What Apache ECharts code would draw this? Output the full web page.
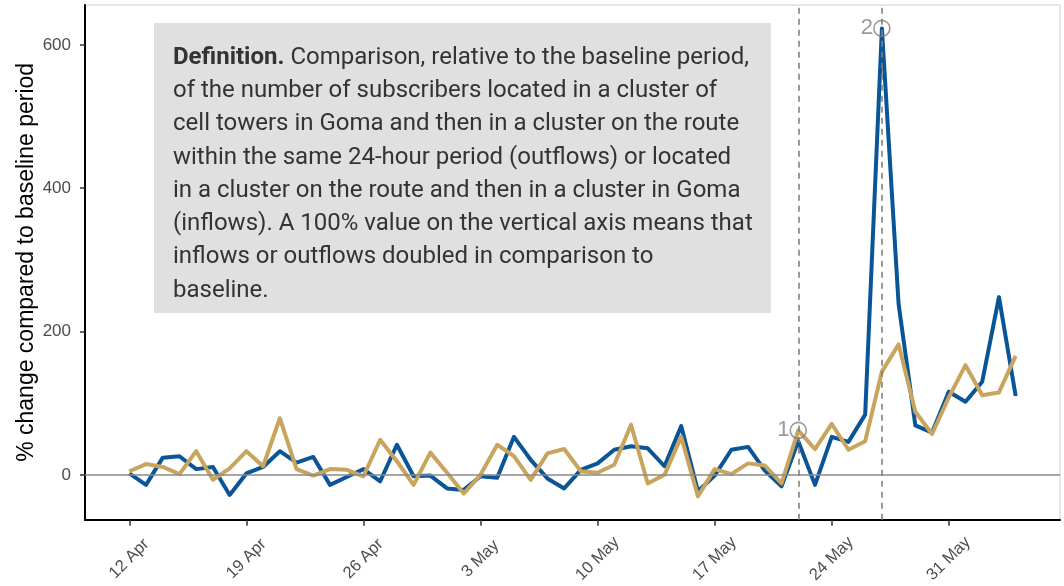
<!DOCTYPE html>
<html>
<head>
<meta charset="utf-8">
<script src="https://cdn.jsdelivr.net/npm/echarts@6/dist/echarts.min.js"></script>
<style>
html,body{margin:0;padding:0;background:#fff;}
#chart{width:1064px;height:586px;}
</style>
</head>
<body>
<div id="chart"></div>
<script>
// Daily dates from 12 Apr to 4 Jun (2021)
const dates = ['12 Apr','13 Apr','14 Apr','15 Apr','16 Apr','17 Apr','18 Apr','19 Apr','20 Apr','21 Apr',
  '22 Apr','23 Apr','24 Apr','25 Apr','26 Apr','27 Apr','28 Apr','29 Apr','30 Apr','1 May',
  '2 May','3 May','4 May','5 May','6 May','7 May','8 May','9 May','10 May','11 May',
  '12 May','13 May','14 May','15 May','16 May','17 May','18 May','19 May','20 May','21 May',
  '22 May','23 May','24 May','25 May','26 May','27 May','28 May','29 May','30 May','31 May',
  '1 Jun','2 Jun','3 Jun','4 Jun'];
const outflows = [2,-14,24,26,8,11,-28,2,11,33,
  17,25,-14,-3,8,-9,42,-2,-1,-19,
  -21,-2,-4,53,21,-5,-19,7,16,35,
  40,37,12,68,-23,-1,35,39,6,-16,
  47,-14,53,46,84,623,238,69,59,116,
  102,130,248,110];
const inflows = [5,15,11,1,33,-7,9,33,12,79,
  8,-1,8,7,-2,49,19,-14,31,3,
  -26,0,42,26,-7,30,36,5,3,14,
  70,-12,0,53,-30,8,1,16,13,-12,
  62,36,71,35,47,144,182,88,57,108,
  153,111,115,166];
const xTickLabels = ['12 Apr','19 Apr','26 Apr','3 May','10 May','17 May','24 May','31 May'];
const yTickValues = [0,200,400,600];
const eventDates = ['22 May','27 May'];
const eventLabels = ['1','2'];
const definitionText = [
  'Comparison, relative to the baseline period,',
  'of the number of subscribers located in a cluster of',
  'cell towers in Goma and then in a cluster on the route',
  'within the same 24-hour period (outflows) or located',
  'in a cluster on the route and then in a cluster in Goma',
  '(inflows). A 100% value on the vertical axis means that',
  'inflows or outflows doubled in comparison to',
  'baseline.'
];

const n = dates.length;
const xTickIdx = xTickLabels.map(l => dates.indexOf(l));
const eventIdx = eventDates.map(d => dates.indexOf(d));
const allVals = outflows.concat(inflows);
const yMinD = Math.min(...allVals), yMaxD = Math.max(...allVals);
const yR = yMaxD - yMinD;
const xR = n - 1;
const eventPts = eventIdx.map((i, k) => ({value:[i, Math.max(outflows[i], inflows[i])], label:eventLabels[k]}));

const AXFONT = '"Liberation Sans", Arial, sans-serif';
const FONT = 'Roboto, "Liberation Sans", sans-serif';
const chart = echarts.init(document.getElementById('chart'), null, {renderer:'canvas'});
chart.setOption({
  animation:false,
  backgroundColor:'#fff',
  grid:{left:85, right:4, top:5, bottom:66, show:true, borderColor:'#cfcfcf', borderWidth:1, backgroundColor:'transparent'},
  xAxis:{
    type:'value',
    min: -0.05*xR, max: xR*1.05,
    splitLine:{show:false},
    axisLine:{show:true, onZero:false, lineStyle:{color:'#000', width:2}},
    axisTick:{show:true, length:6, customValues:xTickIdx, lineStyle:{color:'#333', width:1.5}},
    axisLabel:{customValues:xTickIdx, rotate:45, align:'center', verticalAlign:'middle', margin:39,
      color:'#4d4d4d', fontSize:16.5, fontFamily:AXFONT,
      formatter: v => dates[Math.round(v)]}
  },
  yAxis:{
    type:'value',
    min: yMinD - 0.05*yR, max: yMaxD + 0.05*yR,
    splitLine:{show:false},
    axisLine:{show:true, onZero:false, lineStyle:{color:'#000', width:2}},
    axisTick:{show:true, length:5, customValues:yTickValues, lineStyle:{color:'#333', width:1.5}},
    axisLabel:{customValues:yTickValues, margin:14, color:'#4d4d4d', fontSize:17, fontFamily:AXFONT},
    name:'% change compared to baseline period',
    nameLocation:'middle', nameGap:58, nameRotate:90, nameMoveOverlap:false,
    nameTextStyle:{color:'#000', fontSize:23, fontFamily:AXFONT, verticalAlign:'middle'}
  },
  series:[
    {
      name:'outflows', type:'line', data: outflows.map((v,i)=>[i,v]),
      showSymbol:false, symbol:'none', z:3,
      lineStyle:{color:'#0a5597', width:4, join:'round'},
      markLine:{
        silent:true, symbol:'none', animation:false,
        label:{show:false},
        data:[
          {yAxis:0, lineStyle:{color:'#8a8a8a', width:1.5, type:'solid'}},
          ...eventIdx.map(i => ({xAxis:i, lineStyle:{color:'#808080', width:1.6, type:[6,5]}}))
        ]
      }
    },
    {
      name:'inflows', type:'line', data: inflows.map((v,i)=>[i,v]),
      showSymbol:false, symbol:'none', z:4,
      lineStyle:{color:'#c9a45c', width:4, join:'round'}
    },
    {
      name:'events', type:'scatter', z:6,
      data: eventPts.map(p => ({value:p.value, label:{formatter:p.label}})),
      symbol:'circle', symbolSize:16,
      itemStyle:{color:'rgba(0,0,0,0)', borderColor:'#808080', borderWidth:1.6},
      label:{show:true, position:'left', distance:0, color:'#7f7f7f', fontSize:22, fontFamily:AXFONT}
    }
  ],
  graphic:[
    {type:'rect', left:154, top:23, shape:{width:617, height:290}, style:{fill:'#e0e0e0'}, z:1},
    {type:'text', left:173, top:41, z:2,
      style:{
        text: '{b|Definition.} ' + definitionText.join('\n'),
        font: '24px ' + FONT,
        fill:'#333',
        lineHeight:33.3,
        rich:{b:{fontWeight:'bold', fontSize:24, fontFamily:FONT, fill:'#333', lineHeight:33.3}}
      }}
  ]
});
</script>
</body>
</html>
